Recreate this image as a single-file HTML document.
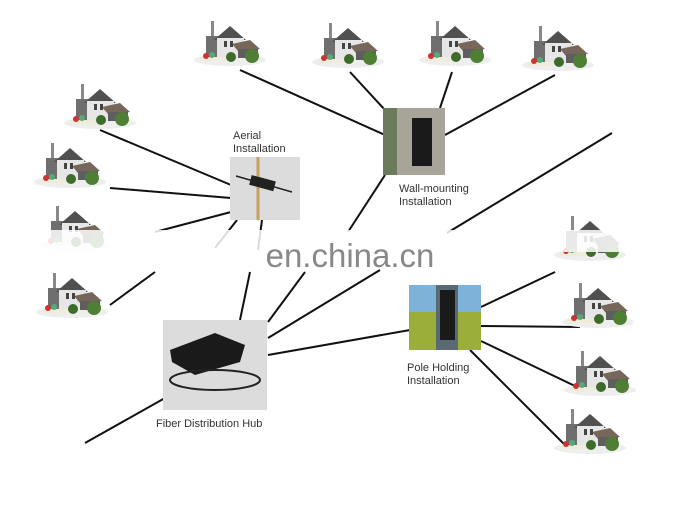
<!DOCTYPE html>
<html><head><meta charset="utf-8"><style>
html,body{margin:0;padding:0;background:#fff;}
svg{display:block;font-family:"Liberation Sans",sans-serif;}
</style></head><body>
<svg width="700" height="529" viewBox="0 0 700 529" xmlns="http://www.w3.org/2000/svg">
<defs>
<g id="h">
  <ellipse cx="32" cy="42" rx="36" ry="6" fill="#eee"/>
  <rect x="8" y="18" width="14" height="22" fill="#6f6f6f"/>
  <rect x="13" y="3" width="3" height="15" fill="#888"/>
  <polygon points="16,22 32,8 48,22" fill="#505050"/>
  <rect x="19" y="20" width="27" height="20" fill="#e6e6e6"/>
  <polygon points="34,26 52,22 62,31 40,33" fill="#76675a"/>
  <rect x="40" y="31" width="20" height="9" fill="#5e5e5e"/>
  <rect x="26" y="23" width="3" height="6" fill="#444"/><rect x="32" y="23" width="3" height="6" fill="#444"/>
  <rect x="2" y="39" width="26" height="4" fill="#f0ecdc"/>
  <circle cx="8" cy="38" r="3" fill="#c33"/><circle cx="14" cy="37" r="3" fill="#5a7"/>
  <circle cx="33" cy="39" r="5" fill="#3d6b2a"/><circle cx="54" cy="38" r="7" fill="#4f7f35"/>
</g>
</defs>
<g stroke="#111" stroke-width="2" fill="none">
  <line x1="240" y1="70" x2="385" y2="135"/>
  <line x1="350" y1="72" x2="385" y2="110"/>
  <line x1="452" y1="72" x2="440" y2="108"/>
  <line x1="555" y1="75" x2="445" y2="135"/>
  <line x1="385" y1="175" x2="348" y2="232"/>
  <line x1="612" y1="133" x2="447" y2="233"/>
  <line x1="100" y1="130" x2="231" y2="185"/>
  <line x1="110" y1="188" x2="231" y2="198"/>
  <line x1="155" y1="232" x2="231" y2="212"/>
  <line x1="237" y1="220" x2="215" y2="248"/>
  <line x1="262" y1="220" x2="258" y2="250"/>
  <line x1="110" y1="305" x2="155" y2="272"/>
  <line x1="250" y1="272" x2="240" y2="320"/>
  <line x1="305" y1="272" x2="268" y2="322"/>
  <line x1="268" y1="338" x2="380" y2="270"/>
  <line x1="268" y1="355" x2="410" y2="330"/>
  <line x1="165" y1="398" x2="85" y2="443"/>
  <line x1="481" y1="307" x2="555" y2="272"/>
  <line x1="481" y1="326" x2="580" y2="327"/>
  <line x1="481" y1="341" x2="575" y2="386"/>
  <line x1="470" y1="350" x2="565" y2="445"/>
</g>
<use href="#h" x="198" y="18"/><use href="#h" x="316" y="20"/><use href="#h" x="423" y="18"/><use href="#h" x="526" y="23"/>
<use href="#h" x="68" y="81"/><use href="#h" x="38" y="140"/><use href="#h" x="43" y="203"/><use href="#h" x="40" y="270"/>
<use href="#h" x="558" y="213"/><use href="#h" x="566" y="280"/><use href="#h" x="568" y="348"/><use href="#h" x="558" y="406"/>
<rect x="230" y="157" width="70" height="63" fill="#dcdcdc"/>
<line x1="258" y1="157" x2="258" y2="220" stroke="#c9a060" stroke-width="3"/>
<rect x="250" y="178" width="25" height="10" fill="#222" transform="rotate(15 262 183)"/>
<line x1="236" y1="176" x2="292" y2="192" stroke="#222" stroke-width="1.5"/>
<rect x="383" y="108" width="62" height="67" fill="#a9a49a"/>
<rect x="383" y="108" width="14" height="67" fill="#6a7a5a"/>
<rect x="412" y="118" width="20" height="48" fill="#1a1a1a"/>
<rect x="409" y="285" width="72" height="65" fill="#7fb2d8"/>
<rect x="409" y="312" width="72" height="38" fill="#9cae3a"/>
<rect x="436" y="285" width="22" height="65" fill="#5a6a72"/>
<rect x="440" y="290" width="15" height="50" fill="#1a1a1a"/>
<rect x="163" y="320" width="104" height="90" fill="#dcdcdc"/>
<polygon points="170,350 215,333 245,345 240,362 195,375 172,362" fill="#1a1a1a"/>
<ellipse cx="215" cy="380" rx="45" ry="10" fill="none" stroke="#222" stroke-width="2"/>
<rect x="0" y="230" width="700" height="22" fill="#fff" opacity="0.85"/>
<text x="350" y="267" font-size="33" fill="#888" text-anchor="middle">en.china.cn</text>
<g font-size="11" fill="#333">
  <text x="233" y="139">Aerial</text><text x="233" y="152">Installation</text>
  <text x="399" y="192">Wall-mounting</text><text x="399" y="205">Installation</text>
  <text x="407" y="371">Pole Holding</text><text x="407" y="384">Installation</text>
  <text x="156" y="427">Fiber Distribution Hub</text>
</g>
</svg>
</body></html>
